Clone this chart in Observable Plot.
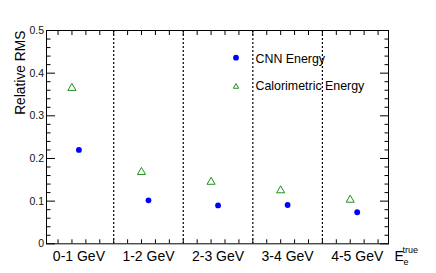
<!DOCTYPE html>
<html>
<head>
<meta charset="utf-8">
<script src="https://cdn.jsdelivr.net/npm/d3@7"></script>
<script src="https://cdn.jsdelivr.net/npm/@observablehq/plot@0.6"></script>
<style>
  html, body { margin: 0; padding: 0; background: #fff; }
  #chart { width: 436px; height: 273px; }
</style>
</head>
<body>
<div id="chart"></div>
<script>
// ---- data ----
const binLabels = ["0-1 GeV", "1-2 GeV", "2-3 GeV", "3-4 GeV", "4-5 GeV"];
const cnnRMS  = [0.220, 0.102, 0.090, 0.091, 0.074];
const caloRMS = [0.365, 0.168, 0.145, 0.125, 0.103];
const yMajorTicks = [0, 0.1, 0.2, 0.3, 0.4, 0.5];
const seriesNames = ["CNN Energy", "Calorimetric Energy"];
const yTitle = "Relative RMS";

const blue = "#0000ff";
const green = "#1f8f1f";
const FONT = "'Liberation Sans', Arial, Helvetica, sans-serif";

const rows = binLabels.map((label, i) => ({pos: i + 0.5, label, cnn: cnnRMS[i], calo: caloRMS[i]}));
const dividers = d3.range(1, binLabels.length);
const labelAt = new Map(rows.map(d => [d.pos, d.label]));
const yMinorTicks = d3.range(0, 26).map(i => i / 50).filter(v => Math.round(v * 50) % 5 !== 0);
const xDomain = [0.034, 4.95];
const xMinorTicks = d3.range(1, 25).map(i => i / 5);

const plot = Plot.plot({
  width: 436,
  height: 273,
  marginLeft: 46,
  marginRight: 48,
  marginTop: 30,
  marginBottom: 29.7,
  style: {fontFamily: FONT, background: "#fff", color: "#000", overflow: "visible"},
  x: {type: "linear", domain: xDomain, axis: null},
  y: {domain: [0, 0.5], axis: null},
  marks: [
    Plot.ruleX(dividers, {stroke: "#000", strokeWidth: 1.2, strokeDasharray: "2,2"}),
    // y ticks left
    Plot.axisY({anchor: "left", ticks: yMajorTicks, tickSize: 9, dx: 9, fill: "none", stroke: "#000", label: null}),
    Plot.axisY({anchor: "left", ticks: yMinorTicks, tickSize: 4.5, dx: 4.5, fill: "none", stroke: "#000", label: null}),
    // y ticks right
    Plot.axisY({anchor: "right", ticks: yMajorTicks, tickSize: 9, dx: -9, fill: "none", stroke: "#000", label: null}),
    Plot.axisY({anchor: "right", ticks: yMinorTicks, tickSize: 4.5, dx: -4.5, fill: "none", stroke: "#000", label: null}),
    // x ticks bottom/top
    Plot.axisX({anchor: "bottom", ticks: xMinorTicks, tickSize: 4, dy: -4, fill: "none", stroke: "#000", label: null}),
    Plot.axisX({anchor: "top", ticks: xMinorTicks, tickSize: 4, dy: 4, fill: "none", stroke: "#000", label: null}),
    // tick labels
    Plot.axisY({anchor: "left", ticks: yMajorTicks, tickSize: 0, tickPadding: 2.5, fontSize: 10.5,
      fill: "#111", tickFormat: d => String(+d.toFixed(1)), label: null}),
    Plot.axisX({anchor: "bottom", ticks: rows.map(d => d.pos), tickSize: 0, tickPadding: 7.5, fontSize: 14,
      fill: "#000", tickFormat: d => labelAt.get(d), label: null}),
    Plot.frame({stroke: "#000", strokeWidth: 1}),
    // y title
    Plot.text([yTitle], {frameAnchor: "top-left", text: d => d, rotate: -90, textAnchor: "end",
      dx: -31, fontSize: 13.8, fill: "#000"}),
    // data
    Plot.dot(rows, {x: "pos", y: "calo", symbol: "triangle", r: 3, stroke: green, fill: "none", strokeWidth: 1, dx: -7}),
    Plot.dot(rows, {x: "pos", y: "cnn", symbol: "circle", r: 2.9, fill: blue, stroke: "none"})
  ]
});

document.getElementById("chart").appendChild(plot);

// x title E_e^true and legend, added as real SVG text
const svg = d3.select(plot);
const xt = svg.append("g").attr("font-family", FONT).attr("fill", "#000").attr("text-anchor", "start");
xt.append("text").attr("x", 394.5).attr("y", 261).attr("font-size", 14).text("E");
xt.append("text").attr("x", 403.5).attr("y", 265).attr("font-size", 9).text("e");
xt.append("text").attr("x", 402.5).attr("y", 252.5).attr("font-size", 9).text("true");

const lg = svg.append("g").attr("font-family", FONT).attr("text-anchor", "start");
lg.append("circle").attr("cx", 236).attr("cy", 57.7).attr("r", 2.9).attr("fill", blue);
lg.append("path").attr("transform", "translate(236,86.7)")
  .attr("d", d3.symbol(d3.symbolTriangle, Math.PI * 2 * 2)())
  .attr("fill", "none").attr("stroke", green).attr("stroke-width", 1);
lg.append("text").attr("x", 255.5).attr("y", 63.3).attr("font-size", 12.4).attr("fill", "#000").text(seriesNames[0]);
lg.append("text").attr("x", 255.5).attr("y", 90).attr("font-size", 12.4).attr("fill", "#000").text(seriesNames[1]);
</script>
</body>
</html>
